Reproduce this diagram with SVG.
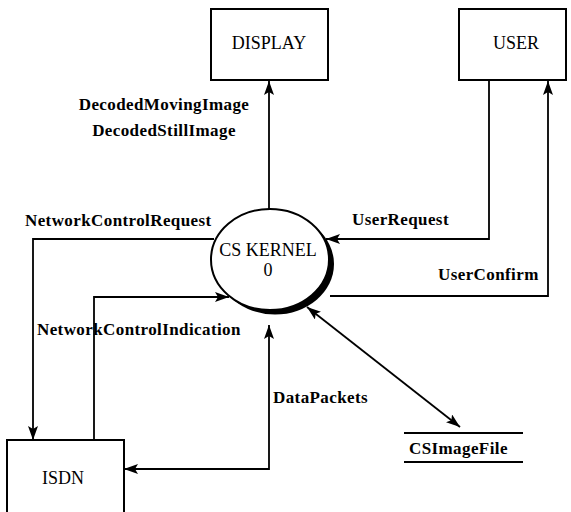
<svg xmlns="http://www.w3.org/2000/svg" width="571" height="512" viewBox="0 0 571 512">
<defs>
<style>
.box{fill:#fff;stroke:#000;stroke-width:2}
.lbl{font-family:"Liberation Serif",serif;font-size:18px;fill:#000;text-anchor:middle}
.flow{font-family:"Liberation Serif",serif;font-size:17px;font-weight:bold;letter-spacing:0.4px;fill:#000}
.ln{fill:none;stroke:#000;stroke-width:1.8}
.store{stroke:#000;stroke-width:2}
</style>
<marker id="ah" viewBox="0 0 14 10" refX="14" refY="5" markerWidth="14" markerHeight="10" markerUnits="userSpaceOnUse" orient="auto-start-reverse">
<path d="M0,0 L14,5 L0,10 L3,5 Z" fill="#000"/>
</marker>
</defs>
<rect width="571" height="512" fill="#fff"/>
<g id="connectors">
<line class="ln" x1="269" y1="209" x2="269" y2="81" marker-end="url(#ah)"/>
<polyline class="ln" points="489,81 489,239 326,239" marker-end="url(#ah)"/>
<polyline class="ln" points="330,296 548,296 548,81" marker-end="url(#ah)"/>
<polyline class="ln" points="214,239 33,239 33,440" marker-end="url(#ah)"/>
<polyline class="ln" points="94,440 94,297 229,297" marker-end="url(#ah)"/>
<polyline class="ln" points="124,469 269,469 269,325" marker-start="url(#ah)" marker-end="url(#ah)"/>
<line class="ln" x1="307" y1="307" x2="460" y2="427" marker-start="url(#ah)" marker-end="url(#ah)"/>
<text class="flow" x="164" y="110" text-anchor="middle">DecodedMovingImage</text>
<text class="flow" x="164" y="136" text-anchor="middle">DecodedStillImage</text>
<text class="flow" x="25" y="226">NetworkControlRequest</text>
<text class="flow" x="37" y="335">NetworkControlIndication</text>
<text class="flow" x="352" y="225">UserRequest</text>
<text class="flow" x="438" y="280">UserConfirm</text>
<text class="flow" x="273" y="403">DataPackets</text>
</g>
<g id="display">
<rect class="box" x="211" y="9" width="117" height="71"/>
<text class="lbl" x="269" y="49">DISPLAY</text>
</g>
<g id="user">
<rect class="box" x="459" y="9" width="107" height="71"/>
<text class="lbl" x="516" y="49">USER</text>
</g>
<g id="kernel">
<ellipse cx="275" cy="264" rx="59" ry="50.5" fill="#000"/>
<ellipse cx="270" cy="259.5" rx="59" ry="50.5" fill="#fff" stroke="#000" stroke-width="2"/>
<text class="lbl" x="268" y="256">CS KERNEL</text>
<text class="lbl" x="268" y="276">0</text>
</g>
<g id="isdn">
<rect class="box" x="7" y="440" width="117" height="80"/>
<text class="lbl" x="63" y="484">ISDN</text>
</g>
<g id="csimagefile">
<line class="store" x1="404" y1="433" x2="523" y2="433"/>
<line class="store" x1="404" y1="462" x2="523" y2="462"/>
<text class="flow" x="409" y="454">CSImageFile</text>
</g>
</svg>
